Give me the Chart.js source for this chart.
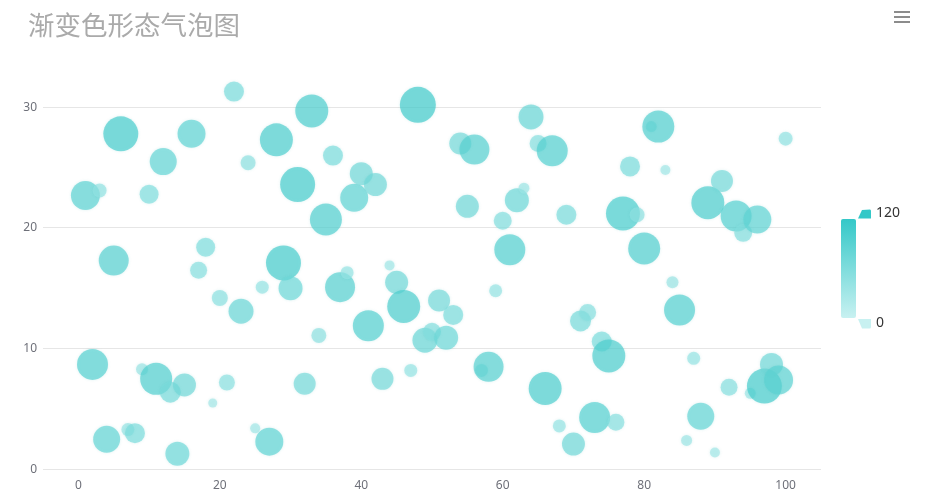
<!DOCTYPE html>
<html>
<head>
<meta charset="utf-8">
<script src="https://cdn.jsdelivr.net/npm/chart.js@4/dist/chart.umd.min.js"></script>
<style>
html,body{margin:0;padding:0;background:#fff;}
#wrap{position:relative;width:929px;height:503px;}
#title{position:absolute;left:28px;top:8px;font-family:"Noto Sans CJK SC","Noto Sans",sans-serif;font-size:26.5px;line-height:32px;color:#aaaaaa;white-space:nowrap;}
.menu{position:absolute;left:894px;width:16px;height:2px;background:#8c8c8c;}
</style>
</head>
<body>
<div id="wrap">
<canvas id="c" width="929" height="503"></canvas>
<div id="title">渐变色形态气泡图</div>
<div class="menu" style="top:11px"></div>
<div class="menu" style="top:16px"></div>
<div class="menu" style="top:21px"></div>
</div>
<script>
const titleText = "渐变色形态气泡图";
const xValues = Array.from({length:100},(_,i)=>i+1);
const yValues = [22.7,8.7,23.1,2.5,17.3,27.8,3.3,3.0,8.3,22.8,7.5,25.5,6.4,1.3,7.0,27.8,16.5,18.4,5.5,14.2,
7.2,31.3,13.1,25.4,3.4,15.1,2.3,27.3,17.1,15.0,23.6,7.1,29.7,11.1,20.7,26.0,15.1,16.3,22.5,24.5,
11.9,23.6,7.5,16.9,15.5,13.5,8.2,30.2,10.7,11.4,14.0,10.9,12.8,27.0,21.8,26.5,8.2,8.5,14.8,20.6,
18.2,22.3,23.3,29.2,27.0,6.7,26.4,3.6,21.1,2.1,12.3,13.0,4.3,10.6,9.4,3.9,21.2,25.1,21.1,18.3,
28.4,28.4,24.8,15.5,13.2,2.4,9.2,4.4,22.1,1.4,23.9,6.8,21.0,19.6,6.3,20.7,6.9,8.7,7.4,27.4];
const sizeValues = [87,93,42,81,90,105,39,60,36,57,96,81,63,72,69,84,51,57,27,48,
48,60,75,45,30,39,84,99,105,72,105,66,99,45,96,60,90,39,84,69,
93,69,66,30,69,99,39,108,75,54,66,72,60,66,69,90,39,90,39,54,
93,72,33,75,51,99,93,39,60,69,63,51,93,60,99,51,102,60,45,96,
33,96,30,36,93,33,39,81,99,30,66,51,93,54,33,84,105,69,87,42];
const xTicks = [0,20,40,60,80,100];
const yTicks = [0,10,20,30];
const mapMin = 0, mapMax = 120;

const light = [200,241,241], dark = [52,200,200];
function colorFor(v, a){
  const t = Math.max(0,Math.min(1,(v-mapMin)/(mapMax-mapMin)));
  const c = light.map((l,i)=>Math.round(l+(dark[i]-l)*t));
  return `rgba(${c[0]},${c[1]},${c[2]},${a})`;
}

const points = xValues.map((x,i)=>({x:x,y:yValues[i],r:sizeValues[i]/6,v:sizeValues[i]}));

const visualMapPlugin = {
  id:'vmap',
  afterDraw(chart){
    const ctx = chart.ctx;
    ctx.save();
    const x0=841,y0=219,w=15,h=99;
    const g = ctx.createLinearGradient(0,y0,0,y0+h);
    g.addColorStop(0,colorFor(mapMax,1));
    g.addColorStop(1,colorFor(mapMin,1));
    ctx.fillStyle=g;
    ctx.beginPath();
    ctx.roundRect(x0,y0,w,h,2);
    ctx.fill();
    ctx.fillStyle=colorFor(mapMax,1);
    ctx.beginPath();
    ctx.moveTo(858,218.5);ctx.lineTo(862,210);ctx.lineTo(870,209.5);
    ctx.quadraticCurveTo(871,209.5,871,211);ctx.lineTo(871,218.5);ctx.closePath();ctx.fill();
    ctx.fillStyle=colorFor(mapMin,1);
    ctx.beginPath();
    ctx.moveTo(858,319);ctx.lineTo(871,319);ctx.lineTo(871,327);
    ctx.quadraticCurveTo(871,328.5,869.5,328.5);ctx.lineTo(862,328.5);ctx.closePath();ctx.fill();
    ctx.fillStyle='#333';
    ctx.font='14px "Noto Sans", sans-serif';
    ctx.textBaseline='middle';
    ctx.textAlign='left';
    ctx.fillText(String(mapMax),876,213.5);
    ctx.fillText(String(mapMin),876,323.5);
    ctx.restore();
  }
};
const shadowPlugin = {
  id:'bshadow',
  beforeDatasetDraw(chart){ const c=chart.ctx; c.save(); c.shadowColor='rgba(60,180,180,0.25)'; c.shadowBlur=3; },
  afterDatasetDraw(chart){ chart.ctx.restore(); }
};

new Chart(document.getElementById('c'),{
  type:'bubble',
  data:{datasets:[{
    data:points,
    backgroundColor:ctx=>colorFor(ctx.raw ? ctx.raw.v : 60,0.68),
    borderWidth:0,
    hoverBorderWidth:0,
    clip:false
  }]},
  options:{
    responsive:false,
    animation:false,
    layout:{padding:{left:0,right:108,top:59,bottom:0}},
    plugins:{legend:{display:false},tooltip:{enabled:false},title:{display:false}},
    scales:{
      x:{
        type:'linear',min:-5,max:105,
        afterBuildTicks(s){ s.ticks = xTicks.map(v=>({value:v})); },
        afterFit(s){ s.height = 33.6; },
        grid:{display:false,drawTicks:false},
        border:{display:false},
        ticks:{padding:9,color:'#6e7079',font:{family:'"Noto Sans", sans-serif',size:12},maxRotation:0}
      },
      y:{
        type:'linear',min:0,max:34.0,
        afterBuildTicks(s){ s.ticks = yTicks.map(v=>({value:v})); },
        afterFit(s){ s.width = 43; },
        grid:{color:'#e6e6e6',drawTicks:false,lineWidth:1},
        border:{display:false},
        ticks:{padding:6,color:'#6e7079',font:{family:'"Noto Sans", sans-serif',size:12}}
      }
    }
  },
  plugins:[shadowPlugin,visualMapPlugin]
});
</script>
</body>
</html>
